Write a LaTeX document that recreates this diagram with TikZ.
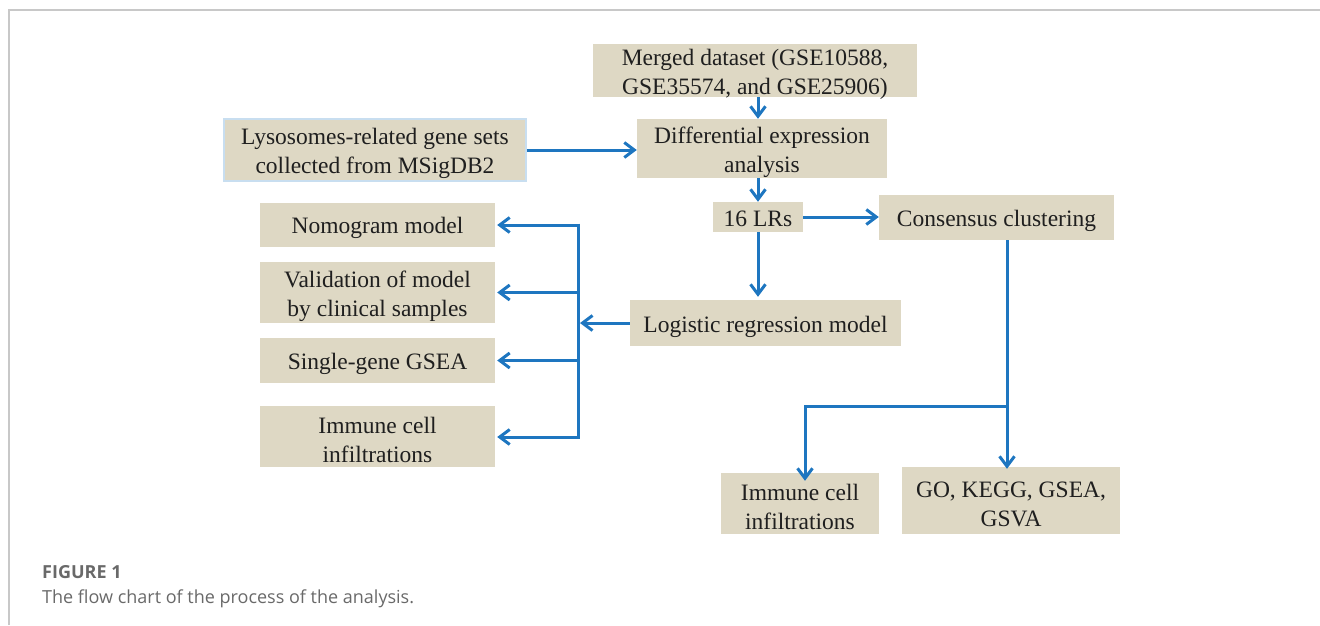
\documentclass[tikz,border=0pt]{standalone}
\usepackage{fontspec}
\setmainfont{Liberation Serif}
\newfontfamily\capfont{Open Sans}
\usetikzlibrary{arrows.meta,calc}
\definecolor{boxfill}{RGB}{222,216,196}
\definecolor{arrblue}{RGB}{30,118,192}
\definecolor{lightedge}{RGB}{200,222,240}
\definecolor{framegray}{RGB}{200,200,200}
\definecolor{capgray}{RGB}{105,105,105}
\begin{document}
\begin{tikzpicture}[x=1pt,y=-1pt,
  box/.style={fill=boxfill,draw=none,inner sep=0pt},
  txt/.style={inner sep=0pt,align=center,font=\fontsize{23.5}{29}\selectfont,text=black!88},
  arr/.style={draw=arrblue,line width=3pt,-{Straight Barb[length=10pt,width=15pt,line width=3pt]}},
  ln/.style={draw=arrblue,line width=3pt}]
\useasboundingbox (0,0) rectangle (1320,625);
\draw[framegray,line width=1.5pt] (9,625) -- (9,10) -- (1320,10);
% boxes
\node[box,minimum width=324pt,minimum height=53pt] (merged) at (755,70.5) {};
\node[txt] (mergedT) at ([yshift=-3.5pt]merged.center) {Merged dataset (GSE10588,\\GSE35574, and GSE25906)};
\node[box,minimum width=250pt,minimum height=59pt] (diff) at (762,148.5) {};
\node[txt] (diffT) at ([yshift=-3.5pt]diff.center) {Differential expression\\analysis};
\node[box,draw=lightedge,line width=1.5pt,minimum width=302pt,minimum height=62pt] (lyso) at (375,150) {};
\node[txt] (lysoT) at ([yshift=-3.5pt]lyso.center) {Lysosomes-related gene sets\\collected from MSigDB2};
\node[box,minimum width=90pt,minimum height=30pt] (lrs) at (758,217) {};
\node[txt] (lrsT) at ([yshift=-2pt]lrs.center) {16 LRs};
\node[box,minimum width=235pt,minimum height=45pt] (cons) at (996.5,217.5) {};
\node[txt] (consT) at ([yshift=-3pt]cons.center) {Consensus clustering};
\node[box,minimum width=271pt,minimum height=46pt] (logi) at (765.5,323) {};
\node[txt] (logiT) at ([yshift=-3.5pt]logi.center) {Logistic regression model};
\node[box,minimum width=235pt,minimum height=44pt] (nomo) at (377.5,225) {};
\node[txt] (nomoT) at ([yshift=-3pt]nomo.center) {Nomogram model};
\node[box,minimum width=235pt,minimum height=61pt] (valid) at (377.5,292.5) {};
\node[txt] (validT) at ([yshift=-3.5pt]valid.center) {Validation of model\\by clinical samples};
\node[box,minimum width=235pt,minimum height=45pt] (single) at (377.5,360.5) {};
\node[txt] (singleT) at ([yshift=-3pt]single.center) {Single-gene GSEA};
\node[box,minimum width=235pt,minimum height=61pt] (immL) at (377.5,436.5) {};
\node[txt] (immLT) at ([yshift=-3.5pt]immL.center) {Immune cell\\infiltrations};
\node[box,minimum width=158pt,minimum height=61pt] (immR) at (800,503.5) {};
\node[txt] (immRT) at ([yshift=-3.5pt]immR.center) {Immune cell\\infiltrations};
\node[box,minimum width=218pt,minimum height=67pt] (go) at (1011,500.5) {};
\node[txt] (goT) at ([yshift=-3.5pt]go.center) {GO, KEGG, GSEA,\\GSVA};
% connectors
\draw[arr] (merged.south -| lrs) -- (diff.north -| lrs);
\draw[arr] (diff.south -| lrs) -- (lrs.north);
\draw[arr] (lyso.east) -- (diff.west |- lyso.east);
\draw[arr] (lrs.east) -- (cons.west |- lrs.east);
\draw[arr] (lrs.south) -- ([yshift=3pt]logi.north -| lrs);
% left bus
\coordinate (busT) at (578,225);
\coordinate (busB) at (578,437);
\draw[ln] ([yshift=1.5pt]busT) -- ([yshift=-1.5pt]busB);
\draw[arr] (logi.west) -- ([xshift=2pt]busT |- logi.west);
\draw[arr] (busT) -- ([xshift=2pt]nomo.east);
\draw[arr] (busT |- valid.east) -- ([xshift=2pt]valid.east);
\draw[arr] (busT |- single.east) -- ([xshift=2pt]single.east);
\draw[arr] (busB) -- ([xshift=2pt]immL.east |- busB);
% right split
\coordinate (split) at (1007,406);
\coordinate (lft) at (805,406);
\draw[ln] (cons.south -| split) -- (split) -- ([xshift=-1.5pt]lft);
\draw[arr] (lft) -- ([yshift=-8pt]lft |- immR.north);
\draw[arr] (split) -- ([yshift=-2pt]split |- go.north);
% caption
\node[anchor=base west,inner sep=0pt,text=capgray,font=\capfont\bfseries\fontsize{18}{21}\selectfont] (figlab) at (42,578) {FIGURE 1};
\node[anchor=base west,inner sep=0pt,text=capgray,font=\capfont\fontsize{18}{21}\selectfont] (figcap) at (42,603) {The flow chart of the process of the analysis.};
\end{tikzpicture}
\end{document}
